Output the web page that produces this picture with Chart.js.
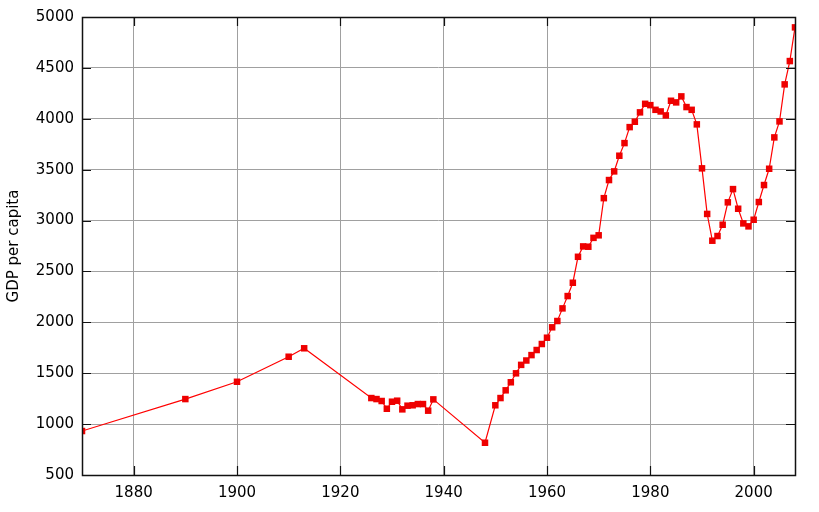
<!DOCTYPE html>
<html>
<head>
<meta charset="utf-8">
<script src="https://cdn.jsdelivr.net/npm/chart.js@4/dist/chart.umd.min.js"></script>
<style>
html,body{margin:0;padding:0;background:#fff;}
#wrap{width:819px;height:512px;position:relative;}
</style>
</head>
<body>
<div id="wrap"><canvas id="c" width="819" height="512"></canvas></div>
<script>
const years = [1870,1890,1900,1910,1913,
  1926,1927,1928,1929,1930,1931,1932,1933,1934,1935,1936,1937,1938,
  1948,
  1950,1951,1952,1953,1954,1955,1956,1957,1958,1959,
  1960,1961,1962,1963,1964,1965,1966,1967,1968,1969,
  1970,1971,1972,1973,1974,1975,1976,1977,1978,1979,
  1980,1981,1982,1983,1984,1985,1986,1987,1988,1989,
  1990,1991,1992,1993,1994,1995,1996,1997,1998,1999,
  2000,2001,2002,2003,2004,2005,2006,2007,2008];
const gdpPerCapita = [932,1246,1416,1662,1745,
  1256,1246,1227,1151,1220,1230,1145,1181,1185,1197,1197,1132,1243,
  817,
  1185,1256,1332,1411,1499,1582,1625,1678,1728,1787,
  1849,1951,2013,2137,2258,2389,2644,2746,2743,2830,
  2855,3220,3398,3483,3637,3761,3918,3971,4063,4147,
  4134,4088,4072,4033,4177,4161,4220,4115,4088,3945,
  3513,3065,2802,2848,2959,3179,3309,3116,2972,2943,
  3008,3182,3349,3509,3817,3974,4338,4567,4898];
const xTicks = [1880,1900,1920,1940,1960,1980,2000];
const yTicks = [500,1000,1500,2000,2500,3000,3500,4000,4500,5000];
const yTitle = 'GDP per capita';

const points = years.map((y,i)=>({x:y, y:gdpPerCapita[i]}));

const frameTicks = {
  id:'frameTicks',
  afterDraw(chart){
    const {ctx, chartArea:a, scales:{x,y}} = chart;
    ctx.save();
    ctx.strokeStyle = '#111';
    ctx.lineWidth = 1.5;
    ctx.beginPath();
    ctx.rect(a.left+0.5, a.top+0.5, a.right-a.left, a.bottom-a.top);
    ctx.stroke();
    ctx.lineWidth = 1.2;
    ctx.beginPath();
    const L = 9;
    xTicks.forEach(v=>{
      const px = Math.round(x.getPixelForValue(v))+0.5;
      ctx.moveTo(px, a.bottom); ctx.lineTo(px, a.bottom-L);
      ctx.moveTo(px, a.top); ctx.lineTo(px, a.top+L);
    });
    yTicks.forEach(v=>{
      const py = Math.round(y.getPixelForValue(v))+0.5;
      ctx.moveTo(a.left, py); ctx.lineTo(a.left+L, py);
      ctx.moveTo(a.right, py); ctx.lineTo(a.right-L, py);
    });
    ctx.stroke();
    ctx.restore();
  }
};

new Chart(document.getElementById('c'), {
  type:'line',
  data:{datasets:[{
    data:points,
    borderColor:'#ff0000',
    backgroundColor:'#ff0000',
    borderWidth:1.2,
    pointStyle:'rect',
    pointRadius:4.6,
    pointBorderWidth:0,
    pointBackgroundColor:'#ee0000',
    tension:0
  }]},
  options:{
    responsive:false,
    animation:false,
    events:[],
    layout:{padding:{top:17,right:24,left:0,bottom:0}},
    plugins:{legend:{display:false},tooltip:{enabled:false}},
    scales:{
      x:{
        type:'linear',
        min:1870,max:2008,
        afterBuildTicks(s){ s.ticks = xTicks.map(v=>({value:v})); },
        afterFit(s){ s.height = 37; },
        grid:{color:'#a0a0a0',lineWidth:1,drawTicks:false},
        border:{display:false},
        ticks:{color:'#000',font:{family:'DejaVu Sans',size:15},padding:9,maxRotation:0,
          callback:(v)=>String(v)}
      },
      y:{
        min:500,max:5000,
        afterBuildTicks(s){ s.ticks = yTicks.map(v=>({value:v})); },
        afterFit(s){ s.width = 82; },
        grid:{color:'#a0a0a0',lineWidth:1,drawTicks:false},
        border:{display:false},
        title:{display:true,text:yTitle,color:'#000',font:{family:'DejaVu Sans',size:15},padding:{top:5,bottom:1}},
        ticks:{color:'#000',font:{family:'DejaVu Sans',size:15},padding:8,
          callback:(v)=>String(v)}
      }
    }
  },
  plugins:[frameTicks]
});
</script>
</body>
</html>
